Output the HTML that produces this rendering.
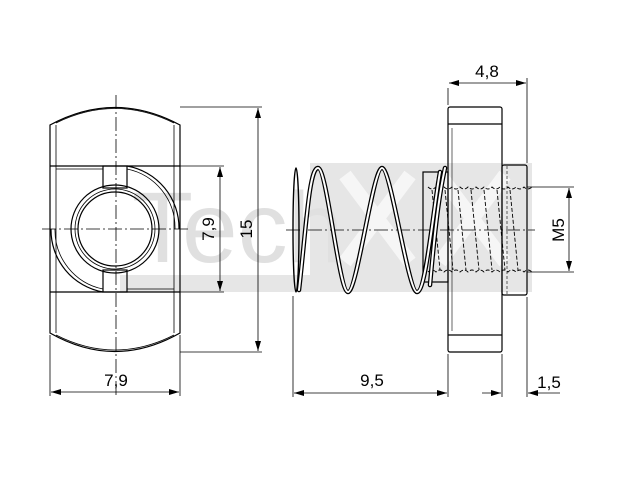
<!DOCTYPE html>
<html><head><meta charset="utf-8"><style>html,body{margin:0;padding:0;background:#fff}svg{display:block}</style></head>
<body>
<svg width="640" height="480" viewBox="0 0 640 480" xmlns="http://www.w3.org/2000/svg" font-family="Liberation Sans, sans-serif">
<defs>
<marker id="a" viewBox="0 0 10 6" refX="10" refY="3" markerWidth="10" markerHeight="6" orient="auto-start-reverse" markerUnits="userSpaceOnUse"><path d="M0,0 L10,3 L0,6 z" fill="#000"/></marker>
</defs>
<g fill="#e6e6e6">
<rect x="310" y="163" width="222" height="128"/>
<rect x="120" y="275" width="412" height="17"/>
<text x="132" y="262" font-size="100" fill="#e0e0e0">Tech</text>
</g>
<g stroke="#f6f6f6" stroke-width="14" fill="none">
<path d="M345,175 L410,262 M410,175 L345,262"/>
<path d="M440,175 L505,262 M505,175 L440,262"/>
</g>
<g stroke="#000" fill="none" stroke-width="1.2">
<path d="M50,125 Q115,90 180,125 L180,333 Q115,370 50,333 Z"/>
<path d="M56,123 Q115,94 174,123" stroke-width="0.8"/>
<path d="M56,335 Q115,365 174,335" stroke-width="0.8"/>
<line x1="56" y1="125" x2="56" y2="333" stroke-width="0.8"/>
<line x1="174" y1="125" x2="174" y2="333" stroke-width="0.8"/>
<line x1="50" y1="166" x2="180" y2="166"/>
<line x1="50" y1="292" x2="180" y2="292"/>
<line x1="56" y1="169" x2="103" y2="169" stroke-width="0.8"/>
<line x1="127" y1="289" x2="174" y2="289" stroke-width="0.8"/>
<path d="M127,166 A63,63 0 0 1 179,229"/>
<path d="M127,169 A60,60 0 0 1 175,229" stroke-width="0.8"/>
<path d="M51,229 A63,63 0 0 0 103,292"/>
<path d="M55,229 A60,60 0 0 0 103,289" stroke-width="0.8"/>
<rect x="103" y="166" width="24" height="22"/>
<rect x="103" y="270" width="24" height="22"/>
<circle cx="115" cy="229" r="44"/>
<circle cx="115" cy="229" r="40" stroke-width="0.8"/>
<circle cx="115" cy="229" r="37"/>
<g stroke-width="0.8" stroke-dasharray="14,3,2,3">
<line x1="116" y1="95" x2="116" y2="395"/>
<line x1="42" y1="229" x2="190" y2="229"/>
<line x1="286" y1="230" x2="535" y2="230"/>
</g>
<g stroke-width="0.8">
<line x1="180" y1="107" x2="262" y2="107"/>
<line x1="180" y1="352" x2="262" y2="352"/>
<line x1="127" y1="166" x2="224" y2="166"/>
<line x1="127" y1="292" x2="224" y2="292"/>
<line x1="258" y1="108" x2="258" y2="351" marker-start="url(#a)" marker-end="url(#a)"/>
<line x1="220" y1="167" x2="220" y2="291" marker-start="url(#a)" marker-end="url(#a)"/>
<line x1="50" y1="335" x2="50" y2="396"/>
<line x1="180" y1="335" x2="180" y2="396"/>
<line x1="51" y1="392" x2="179" y2="392" marker-start="url(#a)" marker-end="url(#a)"/>
</g>
<rect x="448" y="107" width="54" height="245" rx="2"/>
<line x1="448" y1="124" x2="502" y2="124"/>
<line x1="448" y1="335" x2="502" y2="335"/>
<line x1="452" y1="128" x2="452" y2="331" stroke-width="0.6"/>
<rect x="502" y="165" width="25" height="130" rx="2"/>
<line x1="507" y1="166" x2="507" y2="294" stroke-width="0.6" stroke-dasharray="3,2"/>
<rect x="423" y="172" width="25" height="110"/>
<g stroke-width="0.9" stroke-dasharray="4,2">
<path d="M428,187 q4,4 8,0 q4,4 8,0 q4,4 8,0 q4,4 8,0 q4,4 8,0 q4,4 8,0 q4,4 8,0 q4,4 8,0 q4,4 8,0 q4,4 8,0 q4,4 8,0 q4,4 8,0 q4,4 8,0"/>
<path d="M428,272 q4,-4 8,0 q4,-4 8,0 q4,-4 8,0 q4,-4 8,0 q4,-4 8,0 q4,-4 8,0 q4,-4 8,0 q4,-4 8,0 q4,-4 8,0 q4,-4 8,0 q4,-4 8,0 q4,-4 8,0 q4,-4 8,0"/>
<path d="M432,190 L440,270 M445,190 L453,270 M458,190 L466,270 M471,190 L479,270 M484,190 L492,270 M497,190 L505,270 M510,190 L518,270"/>
</g>
<g stroke-linecap="round" fill="none">
<ellipse cx="296" cy="230" rx="3" ry="62" stroke="#000" stroke-width="1.4"/>
<path d="M299,290 C306,230 309,168 318,168 C327,168 339,292 348,292 C357,292 373,168 382,168 C391,168 408,292 417,292 C426,292 433,210 440,172 M430,285 C434,240 438,200 445,168" stroke="#000" stroke-width="4.5"/>
<path d="M299,290 C306,230 309,168 318,168 C327,168 339,292 348,292 C357,292 373,168 382,168 C391,168 408,292 417,292 C426,292 433,210 440,172 M430,285 C434,240 438,200 445,168" stroke="#fff" stroke-width="2"/>
</g>
<g stroke-width="0.8">
<line x1="448" y1="105" x2="448" y2="88"/>
<line x1="527" y1="163" x2="527" y2="78"/>
<line x1="449" y1="83" x2="526" y2="83" marker-start="url(#a)" marker-end="url(#a)"/>
<line x1="527" y1="187" x2="574" y2="187"/>
<line x1="527" y1="272" x2="574" y2="272"/>
<line x1="569" y1="188" x2="569" y2="271" marker-start="url(#a)" marker-end="url(#a)"/>
<line x1="293" y1="296" x2="293" y2="397"/>
<line x1="448" y1="354" x2="448" y2="397"/>
<line x1="502" y1="354" x2="502" y2="397"/>
<line x1="527" y1="297" x2="527" y2="397"/>
<line x1="294" y1="393" x2="447" y2="393" marker-start="url(#a)" marker-end="url(#a)"/>
<line x1="482" y1="393" x2="501" y2="393" marker-end="url(#a)"/>
<line x1="560" y1="393" x2="528" y2="393" marker-end="url(#a)"/>
</g>
</g>
<g font-size="17" fill="#000">
<text x="487" y="77" text-anchor="middle">4,8</text>
<text x="116" y="386" text-anchor="middle">7,9</text>
<text x="372" y="386" text-anchor="middle">9,5</text>
<text x="549" y="388" text-anchor="middle">1,5</text>
<text transform="translate(214,229) rotate(-90)" text-anchor="middle">7,9</text>
<text transform="translate(252,229) rotate(-90)" text-anchor="middle">15</text>
<text transform="translate(564,230) rotate(-90)" text-anchor="middle">M5</text>
</g>
</svg>
</body></html>
